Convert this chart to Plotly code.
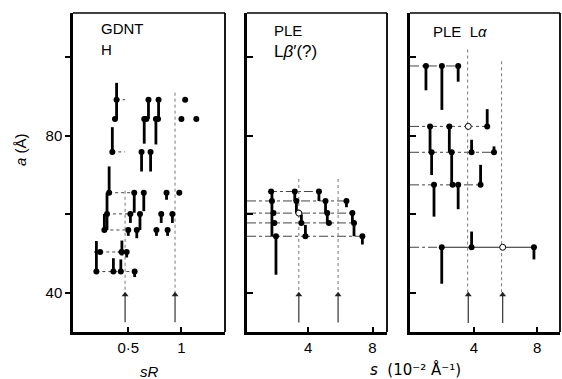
import plotly.graph_objects as go

W, H = 562, 379
FONT = "Liberation Sans"

# ---------------- Panel 1 : GDNT H  (x = sR) ----------------
p1_x = [0.39, 0.375, 0.35, 0.69, 0.65, 0.67, 0.785, 0.76, 0.78, 0.625, 0.71, 1.035, 1.0, 1.14,
        0.32, 0.556, 0.646, 0.86, 0.98,
        0.30, 0.52, 0.61, 0.81, 0.915,
        0.275, 0.50, 0.58, 0.765, 0.87,
        0.235, 0.437, 0.485,
        0.20, 0.36, 0.43, 0.56]
p1_a = [89.2, 84.3, 75.9, 89.2, 84.3, 84.3, 89.2, 84.3, 84.3, 75.9, 75.9, 89.2, 84.3, 84.3,
        65.5, 65.5, 65.5, 65.5, 65.5,
        60.1, 60.1, 60.1, 60.1, 60.1,
        56.0, 56.0, 56.0, 56.0, 56.0,
        50.4, 50.4, 50.4,
        45.4, 45.4, 45.4, 45.4]
# vertical bars: x, a from, a to
p1_bar_x = [0.39, 0.35, 0.32, 0.625, 0.71, 0.69, 0.65, 0.785, 0.76,
            0.30, 0.556, 0.646, 0.86, 0.52, 0.61, 0.81, 0.915,
            0.275, 0.50, 0.58, 0.765, 0.87,
            0.20, 0.36, 0.43, 0.44, 0.485, 0.56]
p1_bar_a0 = [84.3, 75.9, 72.2, 75.9, 75.9, 89.2, 84.3, 89.2, 84.3,
             65.5, 65.5, 65.5, 65.5, 60.1, 60.1, 60.1, 60.1,
             56.0, 56.0, 56.0, 56.0, 56.0,
             45.4, 45.4, 45.4, 53.3, 50.4, 45.4]
p1_bar_a1 = [93.5, 82.2, 65.5, 70.9, 70.9, 84.3, 78.0, 84.3, 77.8,
             56.0, 60.4, 60.8, 63.7, 57.8, 56.0, 57.8, 57.8,
             60.1, 54.5, 53.9, 54.5, 54.5,
             53.2, 48.8, 48.5, 49.5, 49.0, 44.0]
# guide lines (horizontal, dotted): a level, x from, x to
p1_h_a = [89.2, 75.9, 65.5, 60.1, 56.0, 50.4, 45.4]
p1_h_x0 = [0.39, 0.35, 0.32, 0.30, 0.275, 0.18, 0.20]
p1_h_x1 = [0.47, 0.47, 0.52, 0.50, 0.47, 0.50, 0.56]
# short solid horizontal bars
p1_s_a = [50.4, 50.4]
p1_s_x0 = [0.18, 0.40]
p1_s_x1 = [0.26, 0.46]
# vertical dotted lines
p1_v_x = [0.47, 0.94]
p1_v_top = [66.0, 91.0]
p1_v_bot = [40.0, 40.0]
# arrows
p1_arrow_x = [0.47, 0.94]
p1_arrow_tip = [39.5, 39.5]
p1_arrow_tail = [32.5, 32.5]

# ---------------- Panel 2 : PLE Lbeta'(?)  (x = s) ----------------
p2_x = [1.70, 1.75, 1.85, 1.90, 2.00,
        3.17, 3.27, 3.58, 3.83,
        4.67, 5.08, 5.19, 5.29,
        6.38, 6.75, 6.85, 7.37]
p2_a = [65.8, 63.4, 60.3, 57.8, 54.4,
        65.8, 63.4, 57.8, 54.4,
        65.8, 63.4, 60.3, 57.8,
        63.4, 60.3, 57.8, 54.4]
p2_open_x = [3.42]
p2_open_a = [60.3]
p2_bar_x = [1.75, 2.00, 3.17, 3.27, 3.58, 3.83, 4.67, 5.08, 5.19, 6.38, 6.75, 6.85, 7.37]
p2_bar_a0 = [65.8, 54.4, 65.8, 63.4, 57.8, 54.4, 65.8, 63.4, 60.3, 63.4, 60.3, 57.8, 54.4]
p2_bar_a1 = [54.4, 44.6, 63.4, 60.3, 60.0, 57.3, 63.4, 60.3, 57.8, 61.8, 57.8, 54.4, 52.3]
p2_h_a = [65.8, 63.4, 60.3, 57.8, 54.4]
p2_h_x0 = [1.5, 0.2, 0.2, 0.2, 0.2]
p2_h_x1 = [4.67, 6.38, 6.75, 6.85, 7.37]
p2_v_x = [3.42, 5.86]
p2_v_top = [69.0, 69.0]
p2_v_bot = [40.0, 40.0]
p2_arrow_x = [3.42, 5.86]
p2_arrow_tip = [39.5, 39.5]
p2_arrow_tail = [32.4, 32.4]

# ---------------- Panel 3 : PLE Lalpha  (x = s) ----------------
p3_x = [0.96, 1.97, 3.00,
        1.22, 2.44, 4.84,
        1.32, 2.59, 3.85, 5.27,
        1.47, 2.65, 3.00, 4.42,
        1.96, 3.85, 7.80]
p3_a = [97.8, 97.8, 97.8,
        82.4, 82.4, 82.4,
        75.8, 75.8, 75.8, 75.8,
        67.5, 67.5, 67.5, 67.5,
        51.6, 51.6, 51.6]
p3_open_x = [3.64, 5.82]
p3_open_a = [82.4, 51.6]
p3_bar_x = [0.96, 1.97, 3.00, 1.22, 1.32, 2.44, 2.59, 4.84, 3.85, 5.27,
            1.47, 3.00, 4.42, 1.96, 3.85, 7.80]
p3_bar_a0 = [97.8, 97.8, 97.8, 82.4, 75.8, 82.4, 75.8, 82.4, 75.8, 75.8,
             67.5, 67.5, 67.5, 51.6, 51.6, 51.6]
p3_bar_a1 = [91.6, 86.6, 93.8, 75.8, 70.0, 75.8, 67.5, 86.8, 79.0, 77.3,
             59.4, 61.3, 72.6, 42.3, 55.6, 48.5]
p3_h_a = [97.8, 82.4, 75.8, 67.5, 51.6]
p3_h_x0 = [-0.05, -0.05, -0.05, -0.05, -0.05]
p3_h_x1 = [3.00, 4.84, 5.27, 4.42, 1.96]
p3_s_a = [51.6]
p3_s_x0 = [1.96]
p3_s_x1 = [7.80]
p3_v_x = [3.60, 5.75]
p3_v_top = [102.0, 99.0]
p3_v_bot = [40.0, 40.0]
p3_arrow_x = [3.64, 5.82]
p3_arrow_tip = [39.5, 39.5]
p3_arrow_tail = [32.3, 32.3]

# ---------------- axis ticks ----------------
y_major = [40, 80]
y_major_text = ["40", "80"]
y_minor = [60, 100]
y_all = [40, 60, 80, 100]
x1_ticks = [0.5, 1]
x1_ticktext = ["0·5", "1"]
x23_ticks = [4, 8]
x23_ticktext = ["4", "8"]


def vsegs(xs, a0, a1):
    X, Y = [], []
    for x, u, v in zip(xs, a0, a1):
        X += [x, x, None]
        Y += [u, v, None]
    return X, Y


def hsegs(ys, x0, x1):
    X, Y = [], []
    for y, u, v in zip(ys, x0, x1):
        X += [u, v, None]
        Y += [y, y, None]
    return X, Y


fig = go.Figure()

panels = [
    dict(xa="x", ya="y", px=p1_x, pa=p1_a, bx=p1_bar_x, b0=p1_bar_a0, b1=p1_bar_a1,
         ha=p1_h_a, h0=p1_h_x0, h1=p1_h_x1, sa=p1_s_a, s0=p1_s_x0, s1=p1_s_x1,
         vx=p1_v_x, vt=p1_v_top, vb=p1_v_bot, ox=[], oa=[],
         ax_=p1_arrow_x, at=p1_arrow_tip, al=p1_arrow_tail, hdash="dot"),
    dict(xa="x2", ya="y2", px=p2_x, pa=p2_a, bx=p2_bar_x, b0=p2_bar_a0, b1=p2_bar_a1,
         ha=p2_h_a, h0=p2_h_x0, h1=p2_h_x1, sa=[], s0=[], s1=[],
         vx=p2_v_x, vt=p2_v_top, vb=p2_v_bot, ox=p2_open_x, oa=p2_open_a,
         ax_=p2_arrow_x, at=p2_arrow_tip, al=p2_arrow_tail, hdash="dashdot"),
    dict(xa="x3", ya="y3", px=p3_x, pa=p3_a, bx=p3_bar_x, b0=p3_bar_a0, b1=p3_bar_a1,
         ha=p3_h_a, h0=p3_h_x0, h1=p3_h_x1, sa=p3_s_a, s0=p3_s_x0, s1=p3_s_x1,
         vx=p3_v_x, vt=p3_v_top, vb=p3_v_bot, ox=p3_open_x, oa=p3_open_a,
         ax_=p3_arrow_x, at=p3_arrow_tip, al=p3_arrow_tail, hdash="dashdot"),
]

for p in panels:
    X, Y = hsegs(p["ha"], p["h0"], p["h1"])
    fig.add_trace(go.Scatter(x=X, y=Y, mode="lines", xaxis=p["xa"], yaxis=p["ya"],
                             line=dict(color="#444", width=1, dash=p["hdash"]),
                             showlegend=False, hoverinfo="skip"))
    if p["sa"]:
        X, Y = hsegs(p["sa"], p["s0"], p["s1"])
        fig.add_trace(go.Scatter(x=X, y=Y, mode="lines", xaxis=p["xa"], yaxis=p["ya"],
                                 line=dict(color="#222", width=1),
                                 showlegend=False, hoverinfo="skip"))
    X, Y = vsegs(p["vx"], p["vt"], p["vb"])
    fig.add_trace(go.Scatter(x=X, y=Y, mode="lines", xaxis=p["xa"], yaxis=p["ya"],
                             line=dict(color="#777", width=1, dash="dot"),
                             showlegend=False, hoverinfo="skip"))
    X, Y = vsegs(p["bx"], p["b0"], p["b1"])
    fig.add_trace(go.Scatter(x=X, y=Y, mode="lines", xaxis=p["xa"], yaxis=p["ya"],
                             line=dict(color="black", width=2.8),
                             showlegend=False, hoverinfo="skip"))
    fig.add_trace(go.Scatter(x=p["px"], y=p["pa"], mode="markers", xaxis=p["xa"], yaxis=p["ya"],
                             marker=dict(color="black", size=6),
                             showlegend=False, hoverinfo="skip"))
    if p["ox"]:
        fig.add_trace(go.Scatter(x=p["ox"], y=p["oa"], mode="markers", xaxis=p["xa"], yaxis=p["ya"],
                                 marker=dict(color="white", size=6, line=dict(color="black", width=1)),
                                 showlegend=False, hoverinfo="skip"))
    # arrows: shaft + triangular head at the tip
    X, Y = vsegs(p["ax_"], p["al"], p["at"])
    fig.add_trace(go.Scatter(x=X, y=Y, mode="lines", xaxis=p["xa"], yaxis=p["ya"],
                             line=dict(color="#333", width=1.2),
                             showlegend=False, hoverinfo="skip"))
    fig.add_trace(go.Scatter(x=p["ax_"], y=p["at"], mode="markers", xaxis=p["xa"], yaxis=p["ya"],
                             marker=dict(color="#222", size=6, symbol="triangle-up"),
                             showlegend=False, hoverinfo="skip"))


def px2x(px):
    return px / W


def py2y(py):
    return 1 - py / H


ydom = [py2y(332), py2y(13)]
yr = [30.0, 111.3]
doms = [[px2x(73), px2x(225)], [px2x(247), px2x(387)], [px2x(410), px2x(560)]]
xranges = [[-0.02, 1.41], [0.2, 8.9], [-0.05, 9.45]]

common_axis = dict(showline=True, linecolor="black", linewidth=2.5, showgrid=False,
                   zeroline=False, tickcolor="black", tickwidth=2,
                   tickfont=dict(family=FONT, size=15, color="black"))

layout = dict(width=W, height=H, margin=dict(l=0, r=0, t=0, b=0),
              paper_bgcolor="white", plot_bgcolor="white", showlegend=False)

names = ["", "2", "3"]
for i, n in enumerate(names):
    layout["xaxis" + n] = dict(common_axis, domain=doms[i], range=xranges[i], anchor="y" + n,
                               ticks="inside", ticklen=5,
                               tickvals=x1_ticks if i == 0 else x23_ticks,
                               ticktext=x1_ticktext if i == 0 else x23_ticktext)
    if i == 0:
        layout["yaxis" + n] = dict(common_axis, domain=ydom, range=yr, anchor="x" + n,
                                   tickvals=y_major, ticktext=y_major_text,
                                   ticks="outside", ticklen=5,
                                   minor=dict(tickmode="array", tickvals=y_minor, ticks="outside",
                                              ticklen=5, tickwidth=2, tickcolor="black"))
    else:
        layout["yaxis" + n] = dict(common_axis, domain=ydom, range=yr, anchor="x" + n,
                                   tickvals=y_all, ticks="inside", ticklen=6,
                                   showticklabels=False)

shapes = []
for n in names:
    xr = "x" + n + " domain"
    yrf = "y" + n + " domain"
    shapes.append(dict(type="line", xref=xr, yref=yrf, x0=0, x1=1, y0=1, y1=1,
                       line=dict(color="black", width=1.5)))
    shapes.append(dict(type="line", xref=xr, yref=yrf, x0=1, x1=1, y0=0, y1=1,
                       line=dict(color="black", width=1.8)))

txt = dict(family=FONT, size=15, color="black")
annotations = [
    dict(text="GDNT", x=px2x(99), y=py2y(29), xref="paper", yref="paper",
         xanchor="left", yanchor="middle", showarrow=False, font=txt),
    dict(text="H", x=px2x(99), y=py2y(50), xref="paper", yref="paper",
         xanchor="left", yanchor="middle", showarrow=False, font=txt),
    dict(text="PLE", x=px2x(272), y=py2y(30), xref="paper", yref="paper",
         xanchor="left", yanchor="middle", showarrow=False, font=txt),
    dict(text="L<i>β</i>′(?)", x=px2x(272), y=py2y(52), xref="paper", yref="paper",
         xanchor="left", yanchor="middle", showarrow=False, font=dict(txt, size=17)),
    dict(text="PLE  L<i>α</i>", x=px2x(431), y=py2y(32), xref="paper", yref="paper",
         xanchor="left", yanchor="middle", showarrow=False, font=txt),
    dict(text="<i>a</i> (Å)", x=px2x(20), y=py2y(150), xref="paper", yref="paper",
         textangle=-90, xanchor="center", yanchor="middle", showarrow=False, font=txt),
    dict(text="<i>sR</i>", x=px2x(149), y=py2y(371), xref="paper", yref="paper",
         xanchor="center", yanchor="middle", showarrow=False, font=txt),
    dict(text="<i>s</i>  (10⁻² Å⁻¹)", x=px2x(416), y=py2y(369),
         xref="paper", yref="paper", xanchor="center", yanchor="middle",
         showarrow=False, font=dict(family="DejaVu Sans", size=15, color="black")),
]
layout["annotations"] = annotations
layout["shapes"] = shapes
fig.update_layout(**layout)
fig.write_html("out.html")
